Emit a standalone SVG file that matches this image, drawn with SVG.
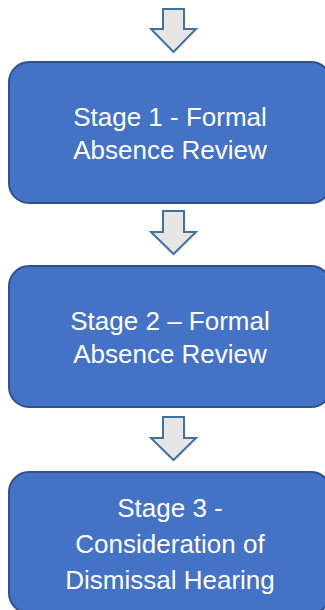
<svg xmlns="http://www.w3.org/2000/svg" width="325" height="610" viewBox="0 0 325 610">
<style>
.box{fill:#4472C4;stroke:#2F528F;stroke-width:2}
.arr{fill:#E7E6E6;stroke:#41719C;stroke-width:2;stroke-linejoin:miter}
.lbl{font-family:"Liberation Sans",Arial,sans-serif;font-size:26px;fill:#FFFFFF;text-anchor:middle}
</style>
<rect width="325" height="610" fill="#FFFFFF"/>
<g id="connectors">
<polygon class="arr" points="163,9 184,9 184,29 196,29 173.5,52 151,29 163,29"/>
<polygon class="arr" points="163,211 184,211 184,232 196,232 173.5,254 151,232 163,232"/>
<polygon class="arr" points="163,417 184,417 184,438 196,438 173.5,460 151,438 163,438"/>
</g>
<g id="stage1">
<rect class="box" x="9" y="62" width="322" height="141" rx="20" ry="20"/>
<text class="lbl" x="170" y="126">Stage 1 - Formal</text>
<text class="lbl" x="170" y="159">Absence Review</text>
</g>
<g id="stage2">
<rect class="box" x="9" y="266" width="322" height="141" rx="20" ry="20"/>
<text class="lbl" x="170" y="330">Stage 2 – Formal</text>
<text class="lbl" x="170" y="363">Absence Review</text>
</g>
<g id="stage3">
<rect class="box" x="9" y="472" width="322" height="141" rx="20" ry="20"/>
<text class="lbl" x="170" y="517">Stage 3 -</text>
<text class="lbl" x="170" y="553">Consideration of</text>
<text class="lbl" x="170" y="589">Dismissal Hearing</text>
</g>
</svg>
